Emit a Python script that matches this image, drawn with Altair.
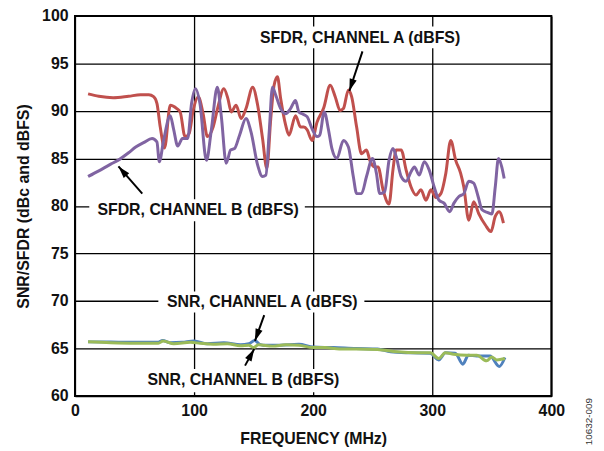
import math
import altair as alt
import pandas as pd

# ---- data ----
sfdr_a_x = [11, 20, 32, 45, 55, 62, 66, 68.8, 71.6, 75.2, 80, 85.5, 88.3, 92.4, 95.8, 99.3, 103.5,
            107.6, 111.2, 116, 120, 125, 128.4, 131.2, 135.3, 139.5, 143.6, 149.2, 153.4, 157.5,
            161.1, 164.4, 167.2, 170, 172.7, 176.9, 179.7, 185.2, 189.4, 192.2, 195, 199.1, 203.2,
            208.8, 214.3, 218.5, 222.6, 225.4, 229.6, 232.3, 236.5, 240.6, 244.8, 247.6, 251.7,
            254.5, 258.7, 263.7, 267, 269.7, 273.9, 278, 282.2, 286.4, 290.5, 294.7, 298.9, 303,
            307.2, 311.4, 315.5, 319.7, 323.8, 326.5, 330.7, 334.8, 339, 344.6, 349.3, 352.9,
            356.2, 359.8]
sfdr_a_y = [91.8, 91.55, 91.4, 91.55, 91.7, 91.7, 91.5, 90.8, 88.3, 86.1, 90.6, 90.25, 89.9, 87.3,
            87.6, 90.1, 91.5, 89.7, 87.3, 88.3, 90.4, 92.35, 91.3, 89.9, 90.6, 89.2, 90.25, 92.5,
            90.6, 87.1, 83.95, 89.2, 92.7, 93.6, 91.3, 88.5, 87.45, 89.5, 88.3, 88.3, 88.0, 86.9,
            88.8, 90.3, 92.7, 91.5, 90.05, 90.25, 92.2, 91.5, 88.3, 85.5, 85.9, 84.8, 84.1, 84.1,
            81.7, 80.2, 83.8, 85.9, 85.9, 83.8, 82.0, 81.15, 81.7, 80.6, 81.7, 80.9, 81.3, 83.45,
            86.9, 84.8, 83.45, 82.0, 78.5, 80.45, 79.2, 78.0, 77.3, 78.9, 79.4, 78.2]

sfdr_b_x = [11, 20, 30, 36, 45, 51, 58, 64.7, 68.8, 70.8, 74.4, 80, 82.7, 86.3, 90.2, 94.6, 97.9,
            101.2, 104.9, 110.4, 114.5, 119.5, 122.9, 127, 130.7, 134, 138.2, 143.6, 147.8, 153.4,
            157.5, 160.3, 163.1, 165.8, 168.6, 172.7, 176.9, 181, 185.2, 188, 190.8, 194.9, 199,
            203.2, 205.5, 209.3, 212.9, 215.7, 219.9, 225.4, 229.6, 233.7, 236.5, 240.6, 244.8,
            249.8, 253.1, 255.9, 260, 263.7, 267, 269.7, 273.9, 278, 282.2, 285, 289.1, 293.3,
            297.4, 301.6, 305.7, 309.9, 314.6, 318.2, 322.4, 326.5, 330.7, 334.8, 338.5, 341.8,
            346.8, 350.1, 352.9, 355.6, 358.4, 360.4]
sfdr_b_y = [83.1, 83.7, 84.4, 84.8, 85.6, 86.2, 86.7, 87.1, 86.75, 84.65, 86.9, 89.5, 88.15, 86.3,
            87.1, 87.1, 90.8, 92.35, 90.8, 84.8, 88.0, 92.5, 89.4, 84.5, 85.9, 86.05, 87.45, 89.2,
            87.8, 84.3, 83.1, 83.25, 87.8, 92.5, 91.65, 90.25, 89.7, 90.25, 91.1, 89.9, 89.7, 89.4,
            88.15, 87.3, 87.45, 89.9, 88.0, 86.05, 85.0, 86.9, 86.2, 83.1, 81.3, 81.3, 83.1, 85.0,
            83.45, 81.3, 81.5, 84.8, 86.05, 85.2, 83.1, 82.6, 83.6, 84.1, 83.25, 84.65, 83.8, 82.0,
            80.6, 80.3, 79.4, 80.3, 81.0, 81.3, 82.6, 82.4, 81.0, 79.6, 79.3, 79.15, 82.0, 85.0,
            84.1, 82.9]

snr_a_x = [11, 30, 50, 70, 73.6, 80, 90, 100, 111, 125, 139, 146, 151, 155, 158, 172, 188, 200,
           217, 236, 254, 265, 281.7, 298.4, 305.4, 311, 319.3, 325.7, 330.4, 337.4, 348.5, 356.3, 361]
snr_a_y = [65.7, 65.68, 65.66, 65.66, 65.85, 65.6, 65.65, 65.8, 65.5, 65.6, 65.4, 65.5, 65.85,
           65.45, 65.35, 65.35, 65.45, 65.15, 65.1, 65.0, 64.95, 64.65, 64.55, 64.5, 63.8, 64.55,
           64.5, 63.35, 64.3, 64.2, 64.2, 63.1, 64.05]

snr_b_x = [11, 30, 50, 70, 74, 83, 97, 105, 116, 128, 139, 146, 150, 154, 166, 177, 188, 200, 210,
           222, 236, 254, 270.7, 287.4, 298.4, 305.4, 311, 317.9, 329, 337.4, 345.7, 349.9, 354.1, 361]
snr_b_y = [65.7, 65.6, 65.55, 65.55, 65.8, 65.5, 65.65, 65.55, 65.45, 65.5, 65.3, 65.35, 65.1,
           65.4, 65.25, 65.4, 65.35, 65.1, 65.1, 64.95, 64.95, 64.9, 64.65, 64.55, 64.55, 63.95,
           64.55, 64.4, 64.3, 64.3, 63.7, 64.1, 63.8, 63.95]

series_names = ["SFDR, CHANNEL A (dBFS)", "SFDR, CHANNEL B (dBFS)",
                "SNR, CHANNEL A (dBFS)", "SNR, CHANNEL B (dBFS)"]
series_colors = ["#C0504D", "#8064A2", "#4F81BD", "#9BBB59"]

x_ticks = [0, 100, 200, 300, 400]
y_ticks = [60, 65, 70, 75, 80, 85, 90, 95, 100]

# annotation labels (data coordinates)
label_text = series_names
label_x = [239.4, 103.4, 157.2, 141.4]
label_y = [97.7, 79.55, 69.9, 61.7]
box_x1 = [150, 12, 70, 53]
box_x2 = [329, 193, 243, 230]
box_y1 = [98.9, 80.7, 71.0, 62.85]
box_y2 = [96.6, 78.4, 68.8, 60.4]
arrow_x1 = [241.4, 56.5, 158.9, 142.8]
arrow_y1 = [96.27, 81.3, 68.52, 63.2]
arrow_x2 = [230.4, 36.5, 151.1, 150.5]
arrow_y2 = [92.1, 84.16, 65.8, 64.94]

# ---- build tables ----
W, H = 480, 383
XD, YD = (0, 400), (60, 100)
FONT = "Liberation Sans"

rows = []
for name, xs, ys in zip(series_names, [sfdr_a_x, sfdr_b_x, snr_a_x, snr_b_x],
                        [sfdr_a_y, sfdr_b_y, snr_a_y, snr_b_y]):
    for i, (a, b) in enumerate(zip(xs, ys)):
        rows.append({"series": name, "f": a, "v": b, "i": i})
lines_df = pd.DataFrame(rows)

ann = pd.DataFrame({
    "label": label_text, "lx": label_x, "ly": label_y,
    "bx1": box_x1, "bx2": box_x2, "by1": box_y1, "by2": box_y2,
    "ax1": arrow_x1, "ay1": arrow_y1, "ax2": arrow_x2, "ay2": arrow_y2,
})
def head_angle(r):
    dx = (r.ax2 - r.ax1) * W / (XD[1] - XD[0])
    dy = -(r.ay2 - r.ay1) * H / (YD[1] - YD[0])
    return math.degrees(math.atan2(dx, -dy)) % 360
ann["ang"] = ann.apply(head_angle, axis=1)

xs = alt.Scale(domain=list(XD), nice=False, zero=False)
ys = alt.Scale(domain=list(YD), nice=False, zero=False)

x_axis = alt.Axis(values=x_ticks, title="FREQUENCY (MHz)", grid=True, ticks=False, domain=False,
                  labelPadding=7, titlePadding=12, labelFlush=False)
y_axis = alt.Axis(values=y_ticks, title="SNR/SFDR (dBc and dBFS)", grid=True, ticks=False,
                  domain=False, labelPadding=7, titlePadding=10, labelFlush=False)

base_lines = alt.Chart(lines_df).mark_line(strokeWidth=3, interpolate="monotone").encode(
    x=alt.X("f:Q", scale=xs, axis=x_axis),
    y=alt.Y("v:Q", scale=ys, axis=y_axis),
    color=alt.Color("series:N", scale=alt.Scale(domain=series_names, range=series_colors),
                    legend=None),
    order="i:Q",
    detail="series:N",
)
# draw each series separately so later series sit on top
line_layers = [base_lines.transform_filter(alt.datum.series == n) for n in series_names]

boxes = alt.Chart(ann).mark_rect(fill="white").encode(
    x=alt.X("bx1:Q", scale=xs), x2="bx2:Q",
    y=alt.Y("by1:Q", scale=ys), y2="by2:Q",
)
shafts = alt.Chart(ann).mark_rule(color="black", strokeWidth=2).encode(
    x=alt.X("ax1:Q", scale=xs), x2="ax2:Q",
    y=alt.Y("ay1:Q", scale=ys), y2="ay2:Q",
)
heads = alt.Chart(ann).mark_point(
    shape="M0,0L0.6,2L-0.6,2Z", filled=True, color="black", opacity=1, size=150, strokeWidth=0
).encode(
    x=alt.X("ax2:Q", scale=xs), y=alt.Y("ay2:Q", scale=ys), angle=alt.Angle("ang:Q", scale=None),
)
labels = alt.Chart(ann).mark_text(font=FONT, fontSize=16, fontWeight="bold", color="#111111",
                                  align="center", baseline="middle").encode(
    x=alt.X("lx:Q", scale=xs), y=alt.Y("ly:Q", scale=ys), text="label:N",
)

code_df = pd.DataFrame({"t": ["10632-009"], "x": [431.6], "y": [57.3]})
code = alt.Chart(code_df).mark_text(font=FONT, fontSize=10, angle=270, color="#333333",
                                    align="center", baseline="middle").encode(
    x=alt.X("x:Q", scale=xs), y=alt.Y("y:Q", scale=ys), text="t:N",
)

chart = alt.layer(boxes, *line_layers, shafts, heads, labels, code).properties(
    width=W, height=H,
    autosize=alt.AutoSizeParams(type="none"),
    padding={"left": 67.5, "top": 6.3, "right": 45, "bottom": 53},
    background="white",
).configure_view(stroke="black", strokeWidth=2).configure_axis(
    gridColor="black", gridWidth=1.3, gridOpacity=1,
    labelFont=FONT, labelFontSize=16, labelFontWeight="bold", labelColor="#111111",
    titleFont=FONT, titleFontSize=16, titleFontWeight="bold", titleColor="#111111",
)

chart.save("out.html", embed_options={"renderer": "svg", "actions": False})
